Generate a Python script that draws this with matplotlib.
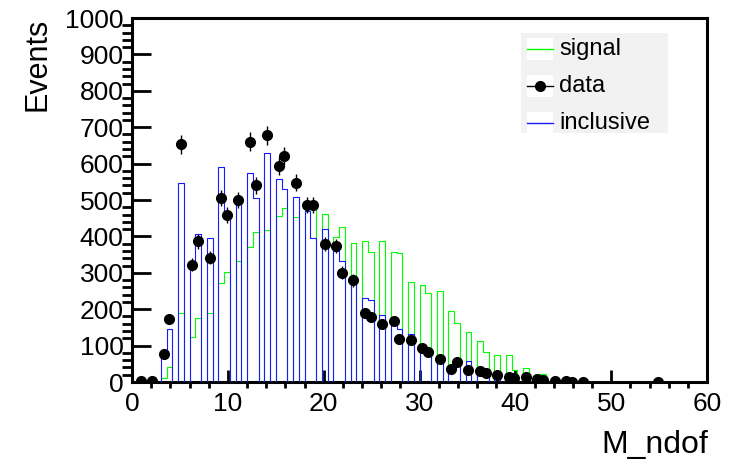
import matplotlib
matplotlib.use('Agg')
import matplotlib.pyplot as plt
import numpy as np
from matplotlib.patches import Rectangle
from matplotlib.lines import Line2D

plt.rcParams['font.family'] = ['Liberation Sans', 'DejaVu Sans']
plt.rcParams['path.simplify'] = False

# number of degrees of freedom (integer values) and counts per value
ndof = [1, 2, 3, 4, 5, 6, 7, 8, 9, 10, 11, 12, 13, 14, 15, 16, 17, 18, 19, 20,
        21, 22, 23, 24, 25, 26, 27, 28, 29, 30, 31, 32, 33, 34, 35, 36, 37, 38, 39, 40,
        41, 42, 43, 44, 45, 46, 47, 55]
data = [2, 3, 76, 172, 653, 322, 386, 342, 505, 458, 500, 660, 540, 678, 593, 622, 547, 485, 485, 378,
        374, 300, 279, 190, 178, 160, 167, 118, 115, 93, 83, 63, 36, 55, 32, 30, 24, 19, 15, 11,
        14, 9, 5, 2, 2, 1, 1, 1]
inclusive = [1, 2, 80, 145, 546, 324, 406, 395, 592, 457, 505, 575, 505, 630, 557, 529, 507, 471, 395, 420,
             360, 333, 271, 232, 225, 184, 168, 146, 132, 99, 86, 72, 38, 59, 58, 42, 36, 26, 21, 20,
             15, 12, 7, 3, 1, 1, 0, 0]
signal = [0, 0, 12, 42, 190, 123, 175, 190, 271, 303, 332, 372, 413, 418, 456, 477, 454, 474, 475, 461,
          399, 425, 383, 387, 358, 387, 356, 354, 275, 266, 244, 251, 195, 161, 136, 113, 83, 74, 73, 33,
          38, 22, 22, 5, 1, 1, 0, 0]

edges = np.linspace(0, 60, 101)
h_data, _ = np.histogram(ndof, bins=edges, weights=data)
h_incl, _ = np.histogram(ndof, bins=edges, weights=inclusive)
h_sig, _ = np.histogram(ndof, bins=edges, weights=signal)
centers = 0.5 * (edges[:-1] + edges[1:])

fig = plt.figure(figsize=(7.29, 4.65), dpi=100)
ax = fig.add_axes([132/729, 1-382/465, 575/729, 364/465])

ax.plot(edges, np.append(h_sig, h_sig[-1]), drawstyle='steps-post', color='#00ff00',
        lw=0.8, zorder=2)
ax.plot(edges, np.append(h_incl, h_incl[-1]), drawstyle='steps-post', color='#1a1aff',
        lw=0.8, zorder=3)
m = h_data > 0
ax.errorbar(centers[m], h_data[m], yerr=np.sqrt(h_data[m]), xerr=0.3, fmt='o',
            color='black', ms=7, elinewidth=1.0, capsize=0, zorder=4)

ax.set_xlim(0, 60)
ax.set_ylim(0, 1000)
ax.set_xticks(np.arange(0, 61, 10))
ax.set_xticks(np.arange(0, 61, 2), minor=True)
ax.set_yticks(np.arange(0, 1001, 100))
ax.set_yticks(np.arange(0, 1001, 20), minor=True)
ax.tick_params(axis='both', direction='in', labelsize=19, width=2, top=False, right=False)
ax.tick_params(axis='y', which='major', length=14, pad=6)
ax.tick_params(axis='y', which='minor', length=7, width=2)
ax.tick_params(axis='x', which='major', length=9, pad=7)
ax.tick_params(axis='x', which='minor', length=4, width=2)
for s in ax.spines.values():
    s.set_linewidth(2.2)
    s.set_zorder(1)

fig.text(37/729, 1-18/465, 'Events', rotation=90, ha='center', va='top', fontsize=22)
fig.text(708/729, 1-445/465, 'M_ndof', ha='right', va='center', fontsize=23)

# legend drawn in the ROOT style
def ax_xy(px, py):
    return ((px - 132) / 575, (382 - py) / 364)

x0, y0 = ax_xy(521, 133)
x1, y1 = ax_xy(668, 33)
ax.add_patch(Rectangle((x0, y0), x1 - x0, y1 - y0, transform=ax.transAxes,
                       facecolor='#f2f2f2', edgecolor='none', zorder=5))
entries = [('signal', '#00ff00', False), ('data', 'black', True), ('inclusive', '#1a1aff', False)]
for i, (lab, col, mk) in enumerate(entries):
    cy = 49 + i * 37
    bx0, by0 = ax_xy(527, cy + 11)
    bx1, by1 = ax_xy(553, cy - 11)
    ax.add_patch(Rectangle((bx0, by0), bx1 - bx0, by1 - by0, transform=ax.transAxes,
                           facecolor='white', edgecolor='none', zorder=6))
    _, ly = ax_xy(0, cy)
    ax.add_line(Line2D([bx0, bx1], [ly, ly], color=col, lw=1.0, transform=ax.transAxes, zorder=7))
    if mk:
        ax.plot([(bx0 + bx1) / 2], [ly], 'o', color='black', ms=7, transform=ax.transAxes, zorder=8)
    tx, _ = ax_xy(559, cy)
    ax.text(tx, ly, lab, transform=ax.transAxes, ha='left', va='center', fontsize=17, zorder=8)

fig.savefig('out.png', dpi=100)
